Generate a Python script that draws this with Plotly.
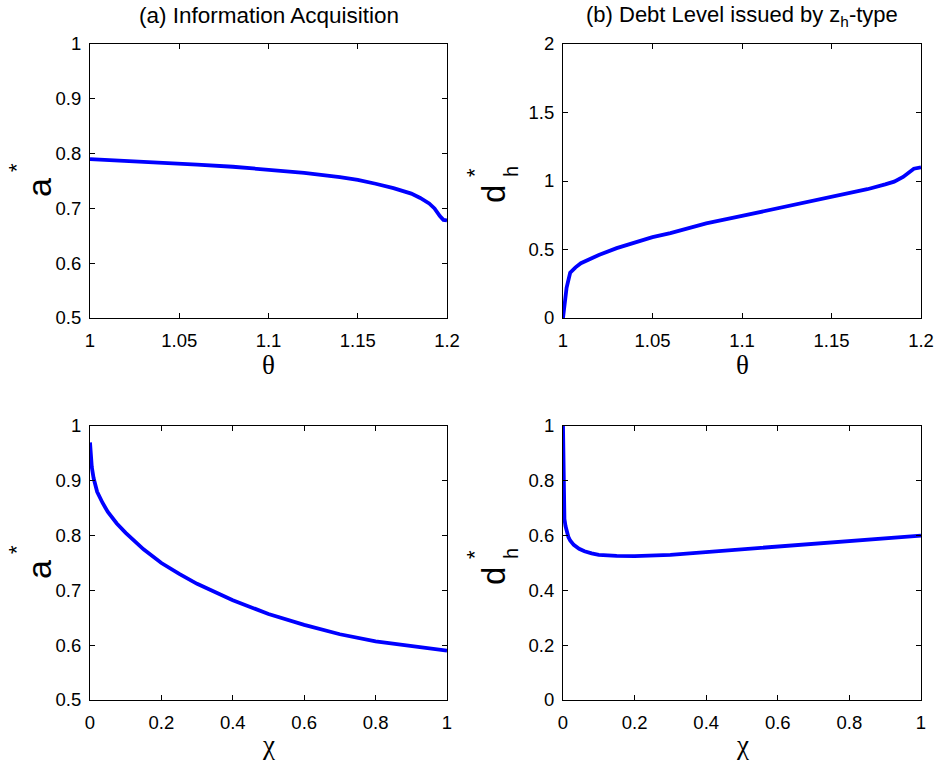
import plotly.graph_objects as go
from plotly.subplots import make_subplots

# (a) top: a* vs theta
theta_a = [1.00, 1.02, 1.04, 1.06, 1.08, 1.10, 1.12, 1.14, 1.15, 1.16, 1.17, 1.18, 1.185, 1.19, 1.193, 1.196, 1.198, 1.20]
a_theta = [0.790, 0.787, 0.784, 0.780, 0.776, 0.771, 0.765, 0.757, 0.752, 0.745, 0.737, 0.727, 0.719, 0.709, 0.700, 0.686, 0.679, 0.678]

# (b) top: d_h* vs theta
theta_d = [1.000, 1.001, 1.002, 1.004, 1.007, 1.010, 1.015, 1.020, 1.030, 1.040, 1.050, 1.060, 1.080, 1.100, 1.120, 1.140, 1.160, 1.170, 1.180, 1.185, 1.190, 1.193, 1.196, 1.200]
d_theta = [0.00, 0.12, 0.22, 0.33, 0.37, 0.40, 0.43, 0.46, 0.51, 0.55, 0.59, 0.62, 0.69, 0.745, 0.80, 0.855, 0.91, 0.94, 0.975, 0.995, 1.03, 1.06, 1.09, 1.10]

# (a) bottom: a* vs chi
chi_a = [0.000, 0.002, 0.005, 0.010, 0.020, 0.035, 0.050, 0.075, 0.10, 0.15, 0.20, 0.25, 0.30, 0.40, 0.50, 0.60, 0.70, 0.80, 0.90, 1.00]
a_chi = [0.970, 0.945, 0.925, 0.905, 0.880, 0.860, 0.843, 0.822, 0.805, 0.775, 0.750, 0.730, 0.712, 0.682, 0.657, 0.637, 0.620, 0.607, 0.598, 0.590]

# (b) bottom: d_h* vs chi
chi_d = [0.000, 0.0005, 0.001, 0.002, 0.004, 0.007, 0.010, 0.015, 0.020, 0.030, 0.045, 0.060, 0.080, 0.10, 0.15, 0.20, 0.30, 0.40, 0.50, 0.60, 0.70, 0.80, 0.90, 1.00]
d_chi = [1.00, 0.90, 0.80, 0.70, 0.66, 0.635, 0.615, 0.595, 0.582, 0.566, 0.552, 0.543, 0.535, 0.530, 0.526, 0.525, 0.530, 0.540, 0.550, 0.560, 0.570, 0.580, 0.590, 0.600]

x_ticks_theta = [1, 1.05, 1.1, 1.15, 1.2]
x_ticks_chi = [0, 0.2, 0.4, 0.6, 0.8, 1]
y_ticks_a = [0.5, 0.6, 0.7, 0.8, 0.9, 1]
y_ticks_d_top = [0, 0.5, 1, 1.5, 2]
y_ticks_d_bot = [0, 0.2, 0.4, 0.6, 0.8, 1]

titles = ["(a) Information Acquisition", "(b) Debt Level issued by z<sub>h</sub>-type"]

fig = make_subplots(rows=2, cols=2)

line = dict(color="#0000FF", width=3.8)
fig.add_trace(go.Scatter(x=theta_a, y=a_theta, mode="lines", line=line, showlegend=False, hoverinfo="skip"), row=1, col=1)
fig.add_trace(go.Scatter(x=theta_d, y=d_theta, mode="lines", line=line, showlegend=False, hoverinfo="skip"), row=1, col=2)
fig.add_trace(go.Scatter(x=chi_a, y=a_chi, mode="lines", line=line, showlegend=False, hoverinfo="skip"), row=2, col=1)
fig.add_trace(go.Scatter(x=chi_d, y=d_chi, mode="lines", line=line, showlegend=False, hoverinfo="skip"), row=2, col=2)

W, H = 934, 767


def px(X):
    return X / W


def py(Y):
    return 1 - Y / H


L0, L1, R0, R1 = 90, 447, 563, 921
T0, T1, B0, B1 = 44, 318, 426, 700
xl = [px(L0), px(L1)]
xr = [px(R0), px(R1)]
yt = [py(T1), py(T0)]
yb = [py(B1), py(B0)]

tickfont = dict(family="Liberation Sans, Arial", size=18.5, color="black")
axis_common = dict(showline=True, linecolor="black", linewidth=1, mirror="ticks",
                   ticks="inside", ticklen=5, tickcolor="black", showgrid=False,
                   zeroline=False, tickfont=tickfont, automargin=False,
                   ticklabeloverflow="allow")


def fmt(v):
    return ("%g" % v)


fig.update_layout(
    xaxis=dict(domain=xl, range=[1, 1.2], tickvals=x_ticks_theta, ticktext=[fmt(v) for v in x_ticks_theta],
               ticklabelstandoff=6, **axis_common),
    yaxis=dict(domain=yt, range=[0.5, 1], tickvals=y_ticks_a, ticktext=[fmt(v) for v in y_ticks_a],
               ticklabelstandoff=4, **axis_common),
    xaxis2=dict(domain=xr, range=[1, 1.2], tickvals=x_ticks_theta, ticktext=[fmt(v) for v in x_ticks_theta],
                ticklabelstandoff=6, **axis_common),
    yaxis2=dict(domain=yt, range=[0, 2], tickvals=y_ticks_d_top, ticktext=[fmt(v) for v in y_ticks_d_top],
                ticklabelstandoff=4, **axis_common),
    xaxis3=dict(domain=xl, range=[0, 1], tickvals=x_ticks_chi, ticktext=[fmt(v) for v in x_ticks_chi],
                ticklabelstandoff=6, **axis_common),
    yaxis3=dict(domain=yb, range=[0.5, 1], tickvals=y_ticks_a, ticktext=[fmt(v) for v in y_ticks_a],
                ticklabelstandoff=4, **axis_common),
    xaxis4=dict(domain=xr, range=[0, 1], tickvals=x_ticks_chi, ticktext=[fmt(v) for v in x_ticks_chi],
                ticklabelstandoff=6, **axis_common),
    yaxis4=dict(domain=yb, range=[0, 1], tickvals=y_ticks_d_bot, ticktext=[fmt(v) for v in y_ticks_d_bot],
                ticklabelstandoff=4, **axis_common),
    width=W, height=H,
    margin=dict(l=0, r=0, t=0, b=0),
    paper_bgcolor="white", plot_bgcolor="white",
)


def ann(text, X, Y, size, family="Liberation Sans, Arial", angle=0):
    fig.add_annotation(text=text, x=px(X), y=py(Y), xref="paper", yref="paper",
                       showarrow=False, textangle=angle,
                       font=dict(family=family, size=size, color="black"),
                       xanchor="center", yanchor="middle")


# panel titles
ann(titles[0], (L0 + L1) / 2, 16, 22.5)
ann(titles[1], (R0 + R1) / 2, 16, 22)

# x-axis labels
serif = "Liberation Serif, Times New Roman"
ann("θ", (L0 + L1) / 2, 365, 27, serif)
ann("θ", (R0 + R1) / 2, 365, 27, serif)
ann("χ", (L0 + L1) / 2, 745, 27, serif)
ann("χ", (R0 + R1) / 2, 745, 27, serif)

# y-axis labels (rotated)
DY = B0 - T0
for dy in (0, DY):
    ann("a", 39, 188 + dy, 34, angle=-90)
    ann("*", 16, 168 + dy, 22, angle=-90)
    ann("d", 493, 194 + dy, 33, angle=-90)
    ann("h", 511, 172 + dy, 20, angle=-90)
    ann("*", 474, 172 + dy, 22, angle=-90)

# remove the browser's default 8px page margin so the figure fills the window exactly
fig.write_html("out.html", config={"displayModeBar": False, "staticPlot": True},
               post_script="document.body.style.margin='0';document.body.style.overflow='hidden';")
